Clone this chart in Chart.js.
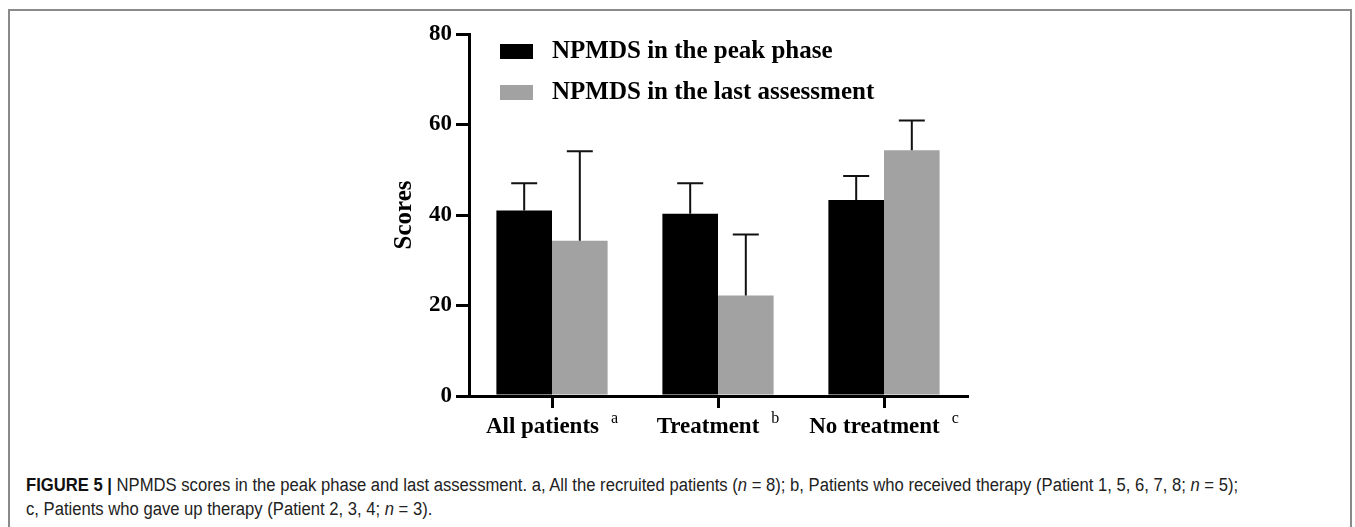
<!DOCTYPE html>
<html>
<head>
<meta charset="utf-8">
<script src="https://cdn.jsdelivr.net/npm/chart.js@4.4.1/dist/chart.umd.min.js"></script>
<style>
  html, body { margin: 0; padding: 0; background: #fff; overflow: hidden; }
  body { width: 1355px; height: 527px; position: relative; }
  #frame { position: absolute; left: 8px; top: 9px; width: 1344px; height: 560px; border: 2px solid #8a8a8a; box-sizing: border-box; }
  #wrap { position: absolute; left: 0; top: 0; width: 1355px; height: 460px; }
  #caption { position: absolute; left: 26px; top: 473px; font-family: "Liberation Sans Narrow", "Liberation Sans", "DejaVu Sans Condensed", sans-serif; font-size: 18px; line-height: 24px; color: #222; white-space: nowrap; transform: scaleX(0.924); transform-origin: 0 0; }
  #caption b { font-weight: bold; color: #111; }
</style>
</head>
<body>
<div id="frame"></div>
<div id="wrap"><canvas id="c" width="1355" height="460"></canvas></div>
<div id="caption"><b>FIGURE 5 |</b> NPMDS scores in the peak phase and last assessment. a, All the recruited patients (<i>n</i> = 8); b, Patients who received therapy (Patient 1, 5, 6, 7, 8; <i>n</i> = 5);<br>c, Patients who gave up therapy (Patient 2, 3, 4; <i>n</i> = 3).</div>
<script>
const categories = ["All patients", "Treatment", "No treatment"];
const categorySup = ["a", "b", "c"];
const seriesNames = ["NPMDS in the peak phase", "NPMDS in the last assessment"];
const peakValues = [41.0, 40.3, 43.3];
const peakErrors = [6.0, 6.7, 5.3];
const lastValues = [34.3, 22.2, 54.3];
const lastErrors = [19.8, 13.5, 6.6];
const yTicks = [0, 20, 40, 60, 80];
const yTitle = "Scores";

const SERIF = '"Liberation Serif", "Times New Roman", serif';

const errorBarPlugin = {
  id: 'errorBars',
  afterDatasetsDraw(chart) {
    const ctx = chart.ctx;
    const yScale = chart.scales.y;
    chart.data.datasets.forEach((ds, di) => {
      const meta = chart.getDatasetMeta(di);
      meta.data.forEach((bar, i) => {
        const v = ds.data[i];
        const e = ds.errors[i];
        const yTop = yScale.getPixelForValue(v + e);
        const yBase = yScale.getPixelForValue(v);
        ctx.save();
        ctx.strokeStyle = '#111';
        ctx.lineWidth = 2;
        ctx.beginPath();
        ctx.moveTo(bar.x, yBase);
        ctx.lineTo(bar.x, yTop);
        ctx.moveTo(bar.x - 13, yTop);
        ctx.lineTo(bar.x + 13, yTop);
        ctx.stroke();
        ctx.restore();
      });
    });
  }
};

const labelPlugin = {
  id: 'customLabels',
  afterDraw(chart) {
    const ctx = chart.ctx;
    const xScale = chart.scales.x;
    ctx.save();
    ctx.fillStyle = '#000';
    ctx.textBaseline = 'alphabetic';
    categories.forEach((cat, i) => {
      const x = xScale.getPixelForValue(i);
      ctx.font = 'bold 23px ' + SERIF;
      const mainW = ctx.measureText(cat).width;
      ctx.font = '16px ' + SERIF;
      const supW = ctx.measureText(categorySup[i]).width;
      const gap = 12;
      const total = mainW + gap + supW;
      const start = x - total / 2;
      ctx.textAlign = 'left';
      ctx.font = 'bold 23px ' + SERIF;
      ctx.fillText(cat, start, 433);
      ctx.font = '16px ' + SERIF;
      ctx.fillText(categorySup[i], start + mainW + gap, 423);
    });
    // legend
    const items = chart.data.datasets;
    const boxY = [44, 85];
    items.forEach((ds, i) => {
      ctx.fillStyle = ds.backgroundColor;
      ctx.fillRect(500, boxY[i], 33, 15);
      ctx.fillStyle = '#000';
      ctx.font = 'bold 25px ' + SERIF;
      ctx.textAlign = 'left';
      ctx.textBaseline = 'middle';
      ctx.fillText(ds.label, 552, boxY[i] + 8);
    });
    ctx.restore();
  }
};

new Chart(document.getElementById('c'), {
  type: 'bar',
  data: {
    labels: categories,
    datasets: [
      { label: seriesNames[0], data: peakValues, errors: peakErrors, backgroundColor: '#000000', borderWidth: 0 },
      { label: seriesNames[1], data: lastValues, errors: lastErrors, backgroundColor: '#a2a2a2', borderWidth: 0 }
    ]
  },
  options: {
    responsive: false,
    animation: false,
    events: [],
    layout: { padding: { left: 0, top: 34, right: 388, bottom: 0 } },
    datasets: { bar: { categoryPercentage: 0.67, barPercentage: 1.0 } },
    plugins: { legend: { display: false }, tooltip: { enabled: false } },
    scales: {
      x: {
        grid: { display: true, drawOnChartArea: false, drawTicks: true, tickLength: 12, lineWidth: 3, color: '#000', offset: false },
        border: { display: true, width: 3, color: '#000' },
        ticks: { display: false },
        afterFit(scale) { scale.height = 64; }
      },
      y: {
        min: 0, max: 80,
        afterBuildTicks(scale) { scale.ticks = yTicks.map(v => ({ value: v })); },
        grid: { display: true, drawOnChartArea: false, drawTicks: true, tickLength: 13, lineWidth: 3, color: '#000' },
        border: { display: true, width: 3, color: '#000' },
        ticks: { color: '#000', padding: 4, font: { family: SERIF, size: 23, weight: 'bold' } },
        title: { display: true, text: yTitle, color: '#000', font: { family: SERIF, size: 25, weight: 'bold' }, padding: { top: 390, bottom: 0 } },
        afterFit(scale) { scale.width = 469; }
      }
    }
  },
  plugins: [errorBarPlugin, labelPlugin]
});
</script>
</body>
</html>
